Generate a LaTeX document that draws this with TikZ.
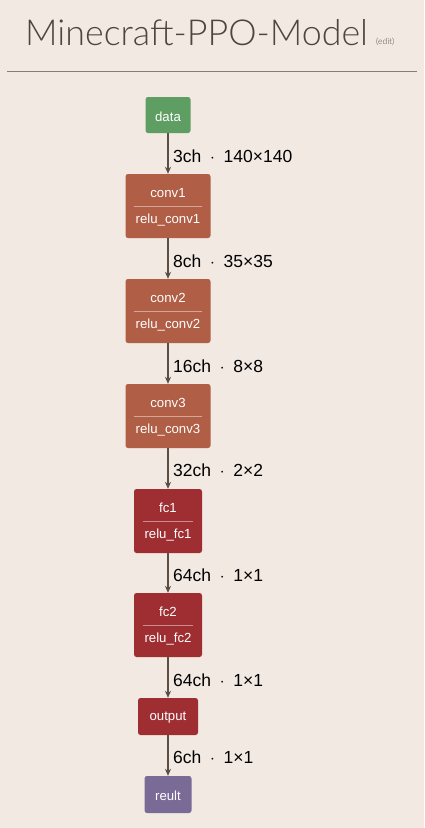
\documentclass[tikz,border=0pt]{standalone}
\usepackage{fontspec}
\setmainfont{Liberation Sans}
\newfontfamily\titlefont{Lato Light}
\usetikzlibrary{arrows.meta}
\definecolor{bg}{HTML}{F2E9E2}
\definecolor{titlec}{HTML}{4F453D}
\definecolor{rulec}{HTML}{8A7D70}
\definecolor{greenc}{HTML}{5E9E62}
\definecolor{convc}{HTML}{B05E45}
\definecolor{fcc}{HTML}{9E2E32}
\definecolor{purc}{HTML}{7A6A96}
\definecolor{edgec}{HTML}{5A4E45}
\newcommand{\sep}{\hspace{0.5em}$\cdot$\hspace{0.5em}}
\begin{document}
\begin{tikzpicture}[x=1pt,y=-1pt,
  box/.style={draw=none,rounded corners=2.5pt,inner sep=0pt},
  lbl/.style={text=white,font=\fontsize{13.2}{15}\selectfont},
  dim/.style={font=\fontsize{17.5}{20}\selectfont,text=black,anchor=west,inner sep=0pt},
  edge/.style={draw=edgec,line width=1.1pt,-{Stealth[length=7pt,width=6pt]}}]
\fill[bg] (0,0) rectangle (424,828);
\useasboundingbox (0,0) rectangle (424,828);
% title
\node[anchor=base west,inner sep=0pt,text=titlec,font=\titlefont\fontsize{35.8}{40}\selectfont] (title) at (25,45) {Minecraft-PPO-Model};
\node[anchor=base west,inner sep=0pt,text=titlec,font=\titlefont\fontsize{8.5}{9}\selectfont] (edit) at (376,44) {(edit)};
\draw[rulec,line width=0.8pt] (7,71) -- (417,71);
% nodes
\node[box,fill=greenc,minimum width=45pt,minimum height=36pt] (data) at (168,115) {};
\node[lbl] (datat) at (168,117) {data};
\foreach \n/\t/\yy/\w/\c in {conv1/conv1/206/85/convc, conv2/conv2/311/85/convc, conv3/conv3/416/85/convc, fc1/fc1/521/68/fcc, fc2/fc2/625/68/fcc}{
  \node[box,fill=\c,minimum width=\w pt,minimum height=64pt] (\n) at (168,\yy) {};
  \node[lbl] (\n t) at (168,\yy-13) {\t};
  \node[lbl] (\n r) at (168,\yy+14) {relu\_\t};
  \draw[white,opacity=0.45,line width=0.9pt] ([xshift=9pt]\n.west) -- ([xshift=-9pt]\n.east);
}
\node[box,fill=fcc,minimum width=60pt,minimum height=37pt] (output) at (168,716.5) {};
\node[lbl] (outputt) at (168,718) {output};
\node[box,fill=purc,minimum width=47pt,minimum height=37pt] (reult) at (168,794.5) {};
\node[lbl] (reultt) at (168,796) {reult};
% edges
\draw[edge] (data) -- (conv1);
\draw[edge] (conv1) -- (conv2);
\draw[edge] (conv2) -- (conv3);
\draw[edge] (conv3) -- (fc1);
\draw[edge] (fc1) -- (fc2);
\draw[edge] (fc2) -- (output);
\draw[edge] (output) -- (reult);
% dimension labels
\node[dim] (d1) at (173,156) {3ch\sep 140×140};
\node[dim] (d2) at (173,261) {8ch\sep 35×35};
\node[dim] (d3) at (173,366) {16ch\sep 8×8};
\node[dim] (d4) at (173,470) {32ch\sep 2×2};
\node[dim] (d5) at (173,575) {64ch\sep 1×1};
\node[dim] (d6) at (173,680) {64ch\sep 1×1};
\node[dim] (d7) at (173,757) {6ch\sep 1×1};
\end{tikzpicture}
\end{document}
